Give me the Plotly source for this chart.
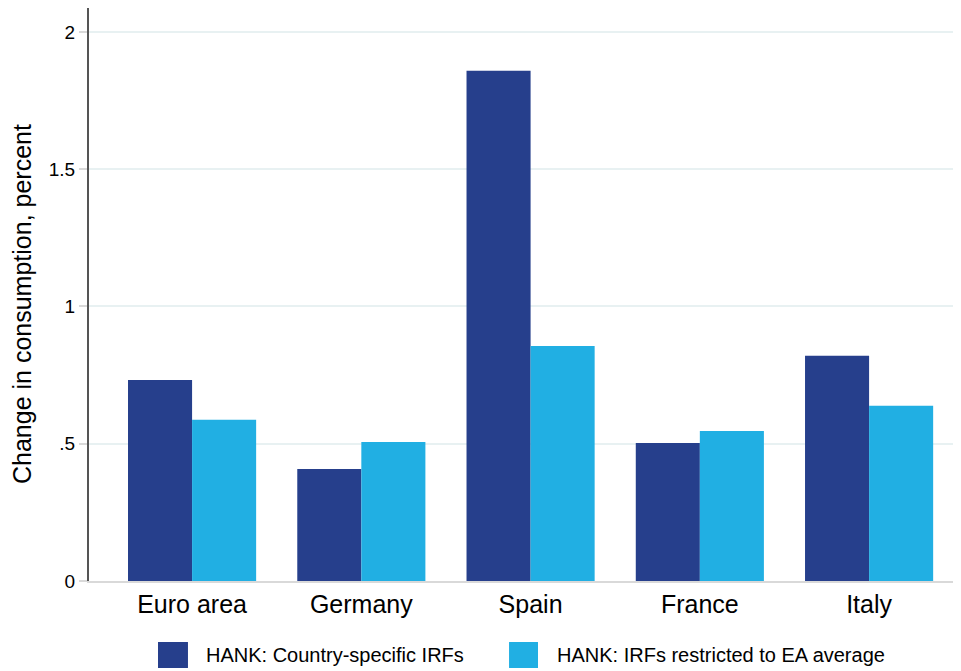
import plotly.graph_objects as go

# =========================
# DATA
# =========================
countries = ["Euro area", "Germany", "Spain", "France", "Italy"]
country_specific = [0.732, 0.408, 1.858, 0.503, 0.820]
ea_average = [0.587, 0.506, 0.856, 0.546, 0.638]
series_names = ["HANK: Country-specific IRFs", "HANK: IRFs restricted to EA average"]
y_ticks = [0, 0.5, 1, 1.5, 2]
y_tick_labels = ["0", ".5", "1", "1.5", "2"]
y_title = "Change in consumption, percent"

DARK = "#263F8C"
LIGHT = "#21AFE3"
FONT = "Liberation Sans, Arial, sans-serif"

fig = go.Figure()

for name, values, color in zip(series_names, [country_specific, ea_average], [DARK, LIGHT]):
    fig.add_trace(
        go.Bar(
            x=countries,
            y=values,
            name=name,
            marker=dict(color=color, line=dict(width=0))
        )
    )

# Legend drawn by hand (wide Stata-style keys)
legend_keys = [
    (0.0791, 0.1135, 0.1319),
    (0.4817, 0.5149, 0.5344),
]
for (x0, x1, xt), name, color in zip(legend_keys, series_names, [DARK, LIGHT]):
    fig.add_shape(
        type="rect", xref="paper", yref="paper",
        x0=x0, x1=x1, y0=-0.1518, y1=-0.1065,
        fillcolor=color, line=dict(width=0)
    )
    fig.add_annotation(
        xref="paper", yref="paper", x=xt, y=-0.1291,
        xanchor="left", yanchor="middle", showarrow=False,
        text=name, font=dict(size=20, color="#000000")
    )

# Y axis title (placed as annotation to match its vertical offset)
fig.add_annotation(
    xref="paper", yref="paper", x=-0.0768, y=0.4834,
    xanchor="center", yanchor="middle", showarrow=False,
    textangle=-90, text=y_title, font=dict(size=25, color="#000000")
)

fig.update_layout(
    width=953,
    height=663,
    barmode="group",
    bargap=0.243,
    bargroupgap=0,
    showlegend=False,
    plot_bgcolor="white",
    paper_bgcolor="white",
    font=dict(family=FONT, color="#000000"),
    margin=dict(l=81, r=0, t=0, b=90),
)

fig.update_xaxes(
    range=[-0.609, 4.543],
    showline=True,
    linecolor="#D9D9D9",
    linewidth=2,
    showgrid=False,
    ticks="",
    tickfont=dict(size=25, color="#000000"),
)

fig.update_yaxes(
    range=[0, 2.087],
    tickvals=y_ticks,
    ticktext=y_tick_labels,
    showline=True,
    linecolor="#555555",
    linewidth=2,
    showgrid=True,
    gridcolor="#E8F1F2",
    gridwidth=2,
    zeroline=False,
    ticks="outside",
    ticklen=8,
    tickcolor="#D9D9D9",
    tickwidth=2,
    tickfont=dict(size=19, color="#000000"),
)

fig.write_html("out.html")
